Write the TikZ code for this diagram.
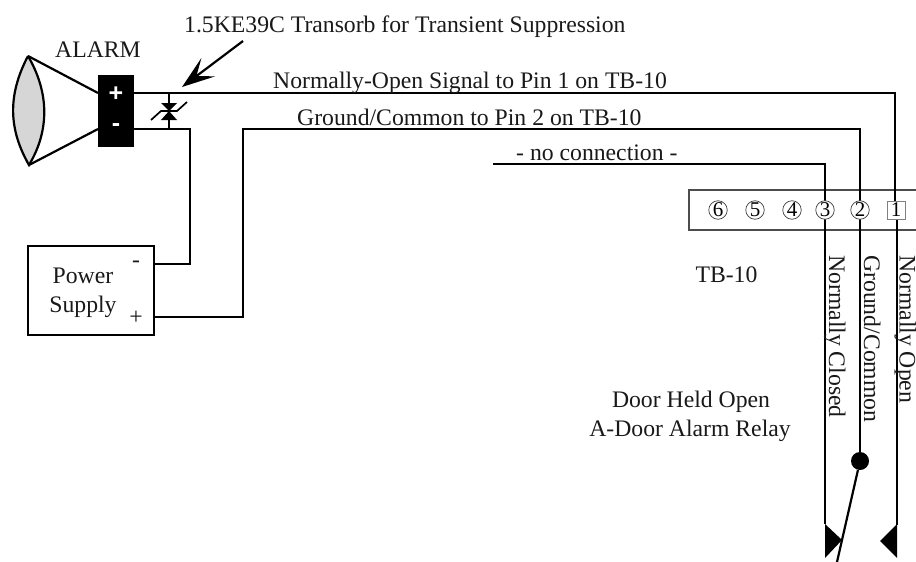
\documentclass[tikz,border=0pt]{standalone}
\usepackage{fontspec}
\setmainfont{Liberation Serif}
\newfontfamily\labelsans{Liberation Sans}
\usetikzlibrary{arrows.meta}
\tikzset{
  wire/.style={line width=2.5pt,black,line join=miter},
  lbl/.style={inner sep=0pt,font=\fontsize{23.7}{23.7}\selectfont,text=black!90},
  hlbl/.style={lbl,anchor=base west},
  clbl/.style={lbl,anchor=base},
  vlbl/.style={lbl,rotate=-90,anchor=base west},
  pin/.style={circle,draw=black!75,line width=0.7pt,fill=white,minimum size=18.5pt,inner sep=0pt,font=\fontsize{21}{21}\selectfont},
  sqpin/.style={rectangle,draw=black!50,line width=1pt,fill=white,minimum size=18pt,inner sep=0pt,font=\fontsize{21}{21}\selectfont},
  blockbox/.style={rectangle,draw=black,line width=1.8pt,fill=white,inner sep=0pt},
  contact/.style={fill=black,draw=none},
}
\begin{document}
\begin{tikzpicture}[x=1pt,y=-1pt]
\useasboundingbox (0,0) rectangle (916,562);

% named points
\coordinate (lensT) at (28,56);
\coordinate (lensB) at (29,165);
\coordinate (pT) at (134,93);
\coordinate (pB) at (134,129);
\coordinate (dT) at (169,93);
\coordinate (dB) at (169,129);
\coordinate (nT) at (190,129);
\coordinate (gT) at (243,129);
\coordinate (nc) at (493,164);
\coordinate (c3) at (825,164);
\coordinate (c2) at (860,129);
\coordinate (c1) at (895,93);

% horn
\draw[line width=2.2pt,fill=black!16] (lensT) .. controls (7,96) and (9,130) .. (lensB) .. controls (50,130) and (49,92) .. (lensT);
\draw[line width=2.2pt] (lensT) -- (98,93) (lensB) -- (98,129);
\node[rectangle,fill=black,minimum width=36pt,minimum height=72pt,inner sep=0pt] (blk) at (116,111) {};
\node[inner sep=0pt,text=white,font=\labelsans\bfseries\fontsize{25}{25}\selectfont] (plus) at (116,94) {+};
\node[inner sep=0pt,text=white,font=\labelsans\bfseries\fontsize{25}{25}\selectfont] (minus) at (116,128) {-};

% power supply
\node[blockbox,minimum width=126pt,minimum height=89pt] (ps) at (91,290.5) {};
\node[clbl] (psa) at (83,283) {Power};
\node[clbl] (psb) at (83,312) {Supply};
\node[lbl] (psm) at (136,264) {-};
\node[lbl] (psp) at (136,318) {+};

% terminal block
\draw[draw=black!70,line width=1.5pt] (916,190) -- (689,190) -- (689,230) -- (916,230);

% wires
\draw[wire] (pT) -- (c1) -- (895,210);
\draw[wire] (pB) -- (nT) |- (ps.east |- 0,264);
\draw[wire] (ps.east |- 0,317) -| (gT) -- (c2) -- (860,461);
\draw[wire] (nc) -- (c3) -- (825,524);
\draw[wire] (897,210) -- (897,525);
\draw[wire] (dT) -- (dB);

% zener
\fill (161,103) -- (177,103) -- (169,111) -- cycle;
\fill (161,120) -- (177,120) -- (169,111) -- cycle;
\draw[line width=1.7pt] (151,120) -- (161,111) -- (177,111) -- (187,102);

% pins
\node[pin] (p6) at (718,210) {6};
\node[pin] (p5) at (755,210) {5};
\node[pin] (p4) at (792,210) {4};
\node[pin] (p3) at (825,210) {3};
\node[pin] (p2) at (860,210) {2};
\node[sqpin] (p1) at (896,210) {1};

% relay contacts
\node[circle,fill=black,minimum size=18pt,inner sep=0pt] (com) at (860,461) {};
\coordinate (armEnd) at (837,562);
\draw[line width=2.2pt] (com) -- (armEnd);
\fill[contact] (825,524) -- (842,540) -- (825,558) -- cycle;
\fill[contact] (897,524) -- (880,541) -- (897,558) -- cycle;

% text
\node[hlbl] (title) at (184,32) {1.5KE39C Transorb for Transient Suppression};
\coordinate (tip) at (182,87);
\coordinate (tail) at (243,41);
\draw[line width=2.2pt,-{Stealth[length=33pt,width=23pt,inset=15pt]}] (tail) -- (tip);
\node[clbl] (alarm) at (98,57) {ALARM};
\node[hlbl] (no) at (273,88) {Normally-Open Signal to Pin 1 on TB-10};
\node[hlbl] (gnd) at (297,125) {Ground/Common to Pin 2 on TB-10};
\node[hlbl] (ncl) at (516,160) {- no connection -};
\node[clbl] (tb) at (726.5,282) {TB-10};
\node[clbl] (d1) at (691,407) {Door Held Open};
\node[clbl] (d2) at (690,436) {A-Door Alarm Relay};
\node[vlbl] (v3) at (829,255) {Normally Closed};
\node[vlbl] (v2) at (864,255) {Ground/Common};
\node[vlbl] (v1) at (899.5,255) {Normally Open};
\end{tikzpicture}
\end{document}
